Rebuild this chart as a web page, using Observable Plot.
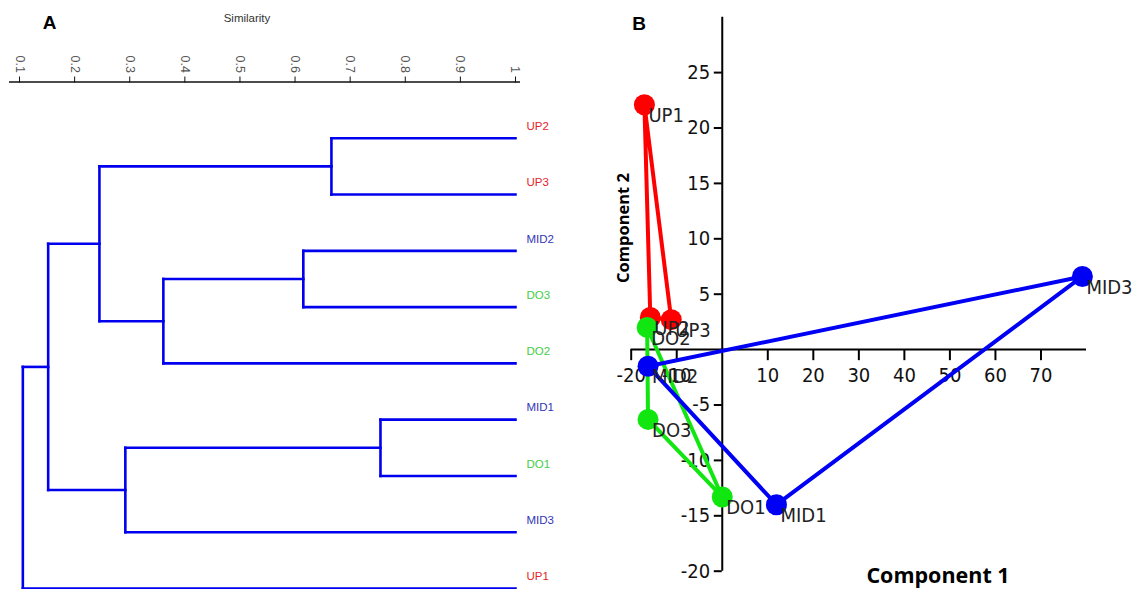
<!DOCTYPE html>
<html><head><meta charset="utf-8">
<script src="https://cdn.jsdelivr.net/npm/d3@7"></script>
<script src="https://cdn.jsdelivr.net/npm/@observablehq/plot@0.6"></script>
<style>
body{margin:0;background:#fff;}
#wrap{position:relative;width:1135px;height:589px;overflow:hidden;background:#fff;}
#wrap svg{position:absolute;top:0;overflow:visible;}
</style></head><body>
<div id="wrap"></div>
<script>
// ---------- Panel A: dendrogram (similarity) ----------
const leaves = ["UP2","UP3","MID2","DO3","DO2","MID1","DO1","MID3","UP1"];
const leafGroups = ["UP","UP","MID","DO","DO","MID","DO","MID","UP"];
// merges: child A, child B (leaf name or "#k" = k-th merge), similarity level
const mergeA = ["UP2","MID2","MID1","#1","#2","#0","#5","#6"];
const mergeB = ["UP3","DO3","DO1","DO2","MID3","#3","#4","UP1"];
const mergeSim = [0.666,0.615,0.755,0.361,0.292,0.245,0.152,0.106];
const simTicks = [0.1,0.2,0.3,0.4,0.5,0.6,0.7,0.8,0.9,1];
const simTickLabels = ["0.1","0.2","0.3","0.4","0.5","0.6","0.7","0.8","0.9","1"];

// ---------- Panel B: PCA scatter ----------
const samples = ["UP1","UP2","UP3","DO2","DO3","DO1","MID2","MID1","MID3"];
const sampleGroups = ["UP","UP","UP","DO","DO","DO","MID","MID","MID"];
const comp1 = [-17.1,-15.8,-11.2,-16.5,-16.3,0.0,-16.3,11.9,79.1];
const comp2 = [22.1,2.9,2.7,2.0,-6.3,-13.3,-1.5,-14.0,6.6];
const groupOrder = ["UP","DO","MID"];
const xTicks = [-20,-10,10,20,30,40,50,60,70];
const yTicks = [25,20,15,10,5,-5,-10,-15,-20];

// ---- build dendrogram segments ----
const nodePos = new Map();
leaves.forEach((n,i)=>nodePos.set(n,{s:1,y:i}));
const segs = [];
mergeA.forEach((a,k)=>{
  const A = nodePos.get(a), B = nodePos.get(mergeB[k]), s = mergeSim[k];
  segs.push({x1:A.s,y1:A.y,x2:s,y2:A.y});
  segs.push({x1:B.s,y1:B.y,x2:s,y2:B.y});
  segs.push({x1:s,y1:A.y,x2:s,y2:B.y});
  nodePos.set("#"+k,{s,y:(A.y+B.y)/2});
});
const yDomA = [-1, 8];

const plotA = Plot.plot({
  width: 560, height: 589,
  marginLeft: 9, marginRight: 40, marginTop: 81.5, marginBottom: 1,
  x: {domain: [0.0818, 1.0091]},
  y: {domain: yDomA, reverse: true, axis: null},
  color: {domain: ["UP","MID","DO"], range: ["#e3242b","#3535b5","#45cc45"]},
  style: {fontFamily: "'Liberation Sans', Arial, sans-serif", fontSize: "11px", color: "#444", background: "transparent"},
  marks: [
    Plot.ruleY([yDomA[0]], {stroke: "#111", strokeWidth: 1.3}),
    Plot.axisX(simTicks, {anchor: "top", tickSize: 6, tickRotate: 90, stroke: "#111",
      tickFormat: d => simTickLabels[simTicks.indexOf(d)], fontSize: 12.5, fill: "#555", label: null}),
    Plot.link(segs, {x1: "x1", y1: "y1", x2: "x2", y2: "y2", stroke: "#0000ee", strokeWidth: 2.6, strokeLinecap: "square"}),
    Plot.text(leaves, {x: () => 1, y: (d,i) => i, text: d => d, fill: (d,i) => leafGroups[i],
      textAnchor: "start", dx: 11, dy: -12, fontSize: 11.5})
  ]
});
plotA.style.left = "0px";

const pts = samples.map((s,i)=>({name:s, group:sampleGroups[i], c1:comp1[i], c2:comp2[i]}));
const fontNarrow = "'Liberation Sans Narrow', 'Arial Narrow', 'DejaVu Sans Condensed', sans-serif";

const plotB = Plot.plot({
  width: 575, height: 589,
  marginLeft: 70.7, marginRight: 49, marginTop: 16.7, marginBottom: 18.3,
  x: {domain: [-20, 80], axis: null},
  y: {domain: [-20, 30], axis: null},
  color: {domain: ["UP","DO","MID"], range: ["#ff0000","#11e611","#0000f5"]},
  style: {fontFamily: fontNarrow, fontSize: "20px", color: "#111", background: "transparent"},
  marks: [
    Plot.ruleY([0], {stroke: "#000", strokeWidth: 2}),
    Plot.ruleX([0], {stroke: "#000", strokeWidth: 2}),
    Plot.ruleX(xTicks, {x: d => d, y1: 0, y2: -1.0, stroke: "#000", strokeWidth: 2}),
    Plot.ruleY(yTicks, {y: d => d, x1: 0, x2: -1.75, stroke: "#000", strokeWidth: 2}),
    Plot.text(xTicks, {x: d => d, y: 0, text: d => String(d), lineAnchor: "top", dy: 18, fontSize: 20, fill: "#111"}),
    Plot.text(yTicks, {x: 0, y: d => d, text: d => String(d), textAnchor: "end", dx: -12, fontSize: 20, fill: "#111"}),
    ...groupOrder.flatMap(g => {
      const sub = pts.filter(p => p.group === g);
      return [
        Plot.hull(sub, {x: "c1", y: "c2", stroke: "group", strokeWidth: 4, strokeLinejoin: "round"}),
        Plot.dot(sub, {x: "c1", y: "c2", fill: "group", r: 10.5})
      ];
    }),
    Plot.text(pts, {x: "c1", y: "c2", text: "name", textAnchor: "start", lineAnchor: "top", dx: 4, dy: 3, fontSize: 20, fill: "#222"})
  ]
});
plotB.style.left = "560px";

const wrap = document.getElementById("wrap");
wrap.appendChild(plotA);
wrap.appendChild(plotB);

// overlay titles
const ov = d3.select(wrap).append("svg").attr("width",1135).attr("height",589).style("left","0px").style("pointer-events","none");
ov.append("text").attr("x",49.5).attr("y",29).attr("text-anchor","middle")
  .style("font","bold 19px 'Liberation Sans', Arial, sans-serif").text("A");
ov.append("text").attr("x",639).attr("y",30).attr("text-anchor","middle")
  .style("font","bold 19px 'Liberation Sans', Arial, sans-serif").text("B");
ov.append("text").attr("x",247).attr("y",22).attr("text-anchor","middle").attr("fill","#333")
  .style("font","11.5px 'Liberation Sans', Arial, sans-serif").text("Similarity");
ov.append("text").attr("transform","translate(629,228) rotate(-90)").attr("text-anchor","middle")
  .style("font","bold 16.5px 'Open Sans', sans-serif").text("Component 2");
ov.append("text").attr("x",938).attr("y",583).attr("text-anchor","middle")
  .style("font","bold 21.5px 'Open Sans', sans-serif").text("Component 1");
</script>
</body></html>
